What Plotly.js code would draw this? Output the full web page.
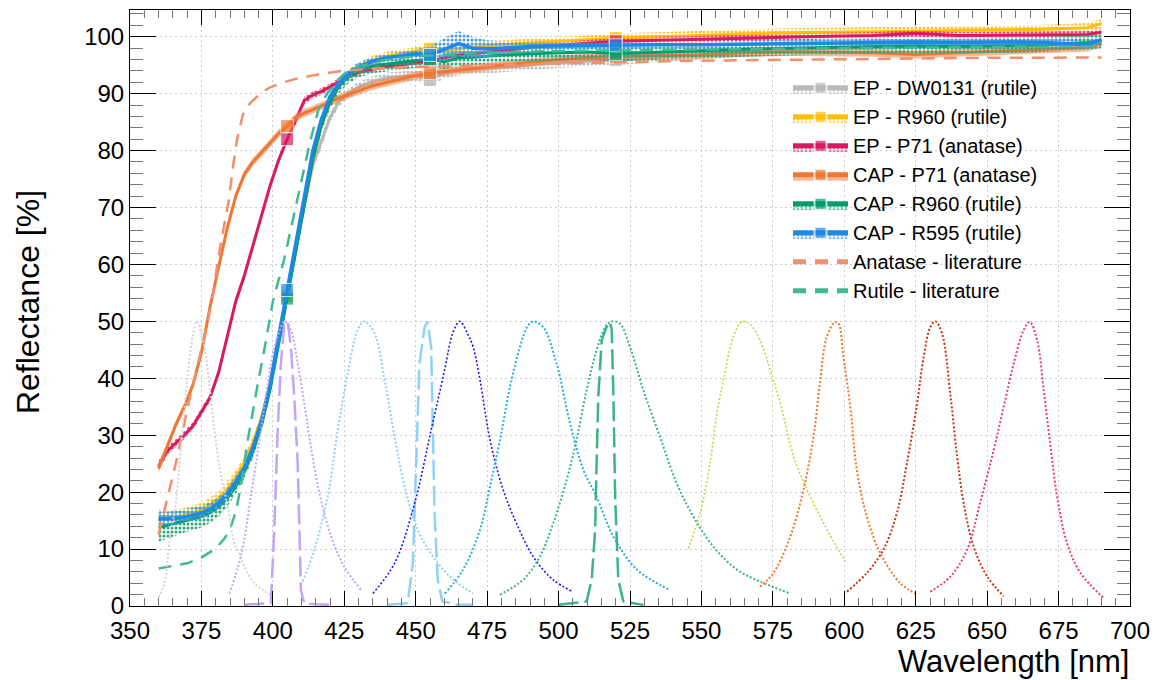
<!DOCTYPE html>
<html><head><meta charset="utf-8">
<script src="https://cdn.plot.ly/plotly-3.0.1.min.js"></script>
<style>html,body{margin:0;padding:0;background:#fff}#chart{width:1154px;height:680px}</style>
</head><body><div id="chart"></div>
<script>
// ---- measured reflectance (common wavelength grid, nm) ----
const wl = [360,363,366,369,372,375,378,381,384,387,390,393,396,399,402,405,408,411,414,417,420,423,426,430,435,440,445,450,455,460,465,470,475,480,490,500,510,520,535,550,565,580,595,610,625,640,655,670,685,690];

const epDW0131 = [15.6,15.5,15.5,15.7,16.0,16.4,17.1,18.2,19.8,21.8,24.3,27.6,32.0,38.3,46.5,54.5,62.5,70.5,77.5,81.5,85.8,88.5,89.9,91.2,92.2,92.8,93.0,93.2,92.4,93.6,94.1,94.3,94.5,94.6,95.0,95.4,95.7,95.9,96.4,96.9,97.4,97.8,98.0,98.2,98.3,98.4,98.5,98.6,98.7,99.0];
const epDW0131Err = [1.5,1.4,1.2,1.0,1.0,1.0,1.0,1.0,1.0,1.0,1.0,1.0,1.0,1.0,1.0,1.0,1.0,1.0,1.0,1.0,0.9,0.9,0.9,0.9,0.9,0.9,0.9,0.9,1.2,0.9,0.9,0.9,0.9,0.9,0.9,0.9,0.9,0.9,0.9,0.9,0.9,0.9,0.9,0.9,0.9,0.9,0.9,0.9,0.9,0.9];

const epR960 = [15.2,15.3,15.6,15.9,16.3,16.9,17.7,18.9,20.5,22.6,25.2,28.6,33.0,39.0,46.5,54.5,62.5,70.5,78.5,84.5,89.0,91.5,93.2,94.7,95.9,96.6,97.0,97.4,97.9,97.6,97.9,98.2,98.4,98.6,98.9,99.1,99.5,99.8,100.0,100.3,100.5,100.7,100.8,101.0,101.0,101.1,101.2,101.3,101.6,102.3];
const epR960Err = [1.3,1.3,1.3,1.3,1.3,1.3,1.3,1.3,1.3,1.3,1.2,1.2,1.0,1.0,1.0,1.0,1.0,1.0,1.0,0.9,0.8,0.8,0.8,0.8,0.8,0.8,0.8,0.8,1.0,1.0,1.0,1.0,0.8,0.8,0.8,0.8,0.8,0.8,0.8,0.8,0.8,0.8,0.8,0.8,0.8,0.8,0.8,0.8,0.8,0.8];

const epP71 = [24.6,27.2,28.6,30.0,31.6,34.0,36.6,41.0,47.5,53.5,58.0,63.2,68.8,73.8,78.3,82.0,85.3,88.8,89.8,90.4,91.2,92.1,92.8,93.7,94.3,94.8,95.1,95.4,95.7,96.3,96.8,97.0,97.3,97.6,98.1,98.5,98.9,99.2,99.4,99.6,99.8,100.0,100.1,100.2,100.6,100.2,100.3,100.3,100.4,100.8];
const epP71Err = [0.9,0.8,0.7,0.7,0.7,0.7,0.7,0.7,0.7,0.7,0.7,0.7,0.7,0.7,0.7,0.7,0.7,0.7,0.6,0.6,0.6,0.6,0.6,0.6,0.6,0.6,0.6,0.6,0.6,0.6,0.6,0.6,0.6,0.6,0.6,0.6,0.6,0.6,0.6,0.6,0.6,0.6,0.6,0.6,0.6,0.6,0.6,0.6,0.6,0.6];

const capP71 = [24.2,28.0,31.8,35.0,38.8,44.5,52.5,59.5,66.3,72.0,75.8,78.0,79.6,81.3,83.0,84.3,85.8,86.6,87.2,87.8,88.5,89.2,89.8,90.5,91.4,92.0,92.6,93.2,93.6,93.9,94.2,94.5,94.8,95.0,95.5,96.0,96.3,96.5,96.7,96.8,97.2,97.3,97.2,97.2,96.9,97.2,97.5,97.7,98.1,98.8];
const capP71Err = [0.8,0.7,0.7,0.7,0.7,0.7,0.7,0.7,0.7,0.7,0.7,0.7,0.7,0.7,0.7,0.7,0.7,0.7,0.7,0.7,0.7,0.7,0.7,0.7,0.7,0.7,0.7,0.7,0.7,0.7,0.7,0.7,0.7,0.7,0.7,0.7,0.7,0.7,0.7,0.7,0.7,0.7,0.7,0.7,0.7,0.7,0.7,0.7,0.7,0.7];

const capR960 = [13.8,14.2,14.6,14.9,15.3,15.7,16.4,17.4,18.9,21.0,23.6,27.1,31.8,38.0,46.0,54.0,62.0,70.5,78.5,84.5,88.5,91.2,92.8,94.2,94.9,95.2,95.5,95.9,96.1,95.6,96.3,96.4,96.6,96.8,97.0,97.2,97.3,97.0,97.3,97.5,97.8,98.0,98.1,98.3,98.4,98.3,98.5,98.6,99.0,99.3];
const capR960Err = [2.5,2.3,2.2,2.0,2.0,1.9,1.8,1.7,1.5,1.3,1.2,1.2,1.2,1.2,1.2,1.2,1.2,1.2,1.2,1.2,1.2,1.2,1.2,1.3,1.3,1.3,1.3,1.3,1.3,1.3,1.3,1.3,1.3,1.3,1.3,1.3,1.3,1.3,1.3,1.3,1.3,1.3,1.3,1.3,1.3,1.3,1.3,1.3,1.3,1.3];

const capR595 = [15.3,15.3,15.4,15.6,15.9,16.3,17.0,18.1,19.7,21.8,24.2,27.8,32.5,38.8,47.3,55.5,63.3,71.5,80.0,85.5,89.5,91.8,93.3,94.7,95.7,96.3,96.6,97.0,96.8,97.8,98.8,98.0,97.9,98.0,98.3,98.4,98.5,98.5,98.6,98.6,98.7,98.8,98.8,99.0,99.1,99.0,99.1,99.0,98.6,99.5];
const capR595Err = [1.2,1.2,1.1,1.0,1.0,1.0,1.0,1.0,1.0,1.0,0.8,0.8,0.8,0.8,0.8,0.8,0.8,0.8,0.8,0.8,0.7,0.7,0.7,0.7,0.7,0.7,0.7,0.8,1.5,2.0,2.2,2.0,1.5,1.2,0.8,0.7,0.6,0.6,0.6,0.6,0.6,0.6,0.6,0.6,0.6,0.6,0.6,0.6,0.6,0.6];

// wavelengths that carry a square marker
const markerWl = [405,455,520];

// ---- literature curves ----
const anaLitX = [360,362,364,366,368,370,372,375,377,379,381,383,384.5,386,387.5,389.5,392,396,399,403,408,415,424,435,450,470,500,550,600,650,690];
const anaLitY = [12.5,16.5,21,25,29.5,34.5,38.8,45,49.5,54.5,61.5,67,71,77,82,86.3,88.3,90.2,91.1,91.9,92.6,93.3,94.0,94.4,94.7,94.9,95.3,95.8,96.1,96.3,96.35];
const rutLitX = [360,365,370,375,380,383,385,387,389,391,393,395,397,400,404,407,410,413,416,419,422,425,430,440,450,475,500,550,600,650,690];
const rutLitY = [6.6,7.0,7.5,8.5,10.1,11.8,13.5,16.5,21.5,28.5,34.5,39.8,45,53.5,61,68,74.5,81.5,87.3,90,92,93.5,94.8,96,96.6,97.2,97.5,97.8,98,98.2,98.3];

// ---- LED / laser emission spectra (scaled to 50) ----
const led373X = [360,362,364,366,368,370,372,373.5,376,378,379.5,381,382,384,386.5,388,390,393,396,399];
const led373Y = [1.5,4,12,18,29,39.5,47.5,50,45.5,38,31,25.5,22.5,18,11,9.5,7,4.3,3,2];
const led405X = [384.8,388.8,392.3,395.8,398.2,400.5,402.5,404,406.3,408.7,411,413.3,416.3,420.4,425,430.9];
const led405Y = [2.2,8.7,19.2,30.9,39.1,45.5,48.5,50,48.5,42.6,35.6,28,19.8,12.2,6.9,2.8];
const laser405X = [390,395,399.3,400.5,401.7,402.8,404,405.2,406.3,407.5,408.7,409.3,409.8,411,415,420.4];
const laser405Y = [0.2,0.3,0.5,13.4,30.9,42.6,49.6,50,45.5,36.8,25,13.4,2.8,0.5,0.3,0.2];
const led432X = [410.4,414.5,419.2,422.7,426.2,429.7,432,435.6,439.1,442.6,446.1,450.7,455,459.6,464.8,470.1];
const led432Y = [4.3,9.9,19.2,30.9,40.8,48.5,50,47.9,39.7,29.7,21,13.4,9.5,6.4,4,2.2];
const laser455X = [440.2,447.2,449,450.1,451.3,453.1,454.2,455.4,456,456.6,457.7,459.3,464.8,470];
const laser455Y = [0.2,0.5,7.5,25,42.6,49,50,45.5,30.9,16.3,4.6,0.8,0.2,0.2];
const led465X = [435,442.6,449.6,455.4,460.1,463,465.4,468,470.1,472.5,476,480.6,485.3,491.1,498.1,505.1];
const led465Y = [2.2,7.5,18,30.9,41.4,48,50,48,45.5,39.7,29.2,20.4,14.5,8.7,4.6,2.5];
const led492X = [460.2,466.6,472.5,476,479.5,483,486.5,489,491.1,494.6,499.3,504,508.7,513.3,519.2,527.4,539];
const led492Y = [2.2,6.4,13.4,21,29.2,38.5,45.5,49,50,49,42.6,32.1,23.9,19.2,12.2,6.4,2.8];
const led519X = [479.5,487.6,493.5,498.1,502.8,506.3,509.8,513.3,516.3,518.6,521.5,525,529.7,535.5,541.4,547.2,554.2,562.4,570.5,581];
const led519Y = [2,4.6,8.7,14.5,22.1,29.2,37.9,44.9,49,50,49.6,45.5,37.9,29.7,21.5,15.7,10.4,6.4,4.3,2.2];
const laser518X = [500,509.8,511.6,512.8,513.3,513.9,515.1,516.8,518,518.6,519.2,519.8,520.9,522.7,529.7];
const laser518Y = [0.2,0.8,4.6,13.4,25,36.8,46.7,49,49.9,48.5,36.8,19.2,4.6,0.8,0.2];
const led565X = [545.4,549.5,553,555.4,557.7,561.2,564.2,567,570.5,574.1,577.6,582.3,587,592.8,600.4];
const led565Y = [10.1,16.3,25,33.8,39.7,47.3,50,49.5,46.7,41.4,35.6,26.2,20.4,14.5,7.8];
const led598X = [570.5,575.2,581.1,585.7,589.2,591.6,593.9,596.8,598,599.7,602.1,604.4,607.9,612.6,619.6,625.5];
const led598Y = [3.4,5.8,12.2,20.4,29.7,39.7,47.3,49.9,49.6,43.8,35,23.9,15.7,9.3,4,2];
const led632X = [600.9,607.9,613.7,618.4,621.9,625.5,627.8,630.1,631.9,634.2,637.2,639.5,641.8,645.3,650,655.8];
const led632Y = [2.5,5.8,9.9,16.3,25,35.6,43.8,49,50,47.9,36.8,26.2,18,10.4,5.2,1.7];
const led664X = [630.1,637.2,643,647.5,652.3,655.8,659.3,662.8,664.9,667.5,669.8,672.2,674.5,678,682.7,690.8];
const led664Y = [2.5,5.2,9.9,18,27.4,35,42.6,48.5,49.9,46.7,37.9,28,19.2,11,5.8,1.4];

// ---- build traces ----
const traces = [];
function series(name, y, err, color, fill, lw) {
  const lo = y.map((v, i) => v - err[i]);
  const hi = y.map((v, i) => v + err[i]);
  const msize = wl.map(w => markerWl.indexOf(w) >= 0 ? 13 : 0);
  const fillProps = fill.pattern
    ? {fillcolor: 'rgba(0,0,0,0)', fillpattern: {shape: '.', fgcolor: fill.color, bgcolor: 'rgba(255,255,255,0)', size: 4, solidity: 0.45}}
    : {fillcolor: fill.color};
  traces.push({x: wl, y: lo, mode: 'lines', line: {width: 0, color: color}, showlegend: false, hoverinfo: 'skip'});
  traces.push(Object.assign({x: wl, y: y, name: name, mode: 'lines+markers', fill: 'tonexty',
    line: {color: color, width: lw}, marker: {symbol: 'square', size: msize, color: color}}, fillProps));
  traces.push(Object.assign({x: wl, y: hi, mode: 'lines', fill: 'tonexty', line: {width: 0, color: color},
    showlegend: false, hoverinfo: 'skip'}, fillProps));
}
series('EP - DW0131 (rutile)', epDW0131, epDW0131Err, '#b9b9b9', {pattern: true, color: '#bdbdbd'}, 3);
series('EP - R960 (rutile)', epR960, epR960Err, '#fcbf0a', {pattern: true, color: '#fcc52a'}, 3);
series('EP - P71 (anatase)', epP71, epP71Err, '#d81b60', {pattern: true, color: '#e0457f'}, 3);
series('CAP - P71 (anatase)', capP71, capP71Err, '#ee7733', {pattern: false, color: 'rgba(240,130,70,0.55)'}, 3);
series('CAP - R960 (rutile)', capR960, capR960Err, '#009e6e', {pattern: true, color: '#2aa77c'}, 3);
series('CAP - R595 (rutile)', capR595, capR595Err, '#1e88e5', {pattern: true, color: '#4a9be6'}, 3.5);

traces.push({x: anaLitX, y: anaLitY, name: 'Anatase - literature', mode: 'lines',
  line: {color: '#f0906c', width: 2.5, dash: '13px,9px'}});
traces.push({x: rutLitX, y: rutLitY, name: 'Rutile - literature', mode: 'lines',
  line: {color: '#3fba93', width: 2.5, dash: '13px,9px'}});

function spec(x, y, color, dash, width, shape) {
  traces.push({x: x, y: y, mode: 'lines', showlegend: false, hoverinfo: 'skip',
    line: {color: color, width: width, dash: dash, shape: shape}});
}
const dot = '2px,2px';
spec(led373X, led373Y, '#d4d4d4', dot, 2, 'spline');
spec(led405X, led405Y, '#c2a4f8', dot, 2, 'spline');
spec(laser405X, laser405Y, '#c2a4f8', '20px,6px', 2.5, 'linear');
spec(led432X, led432Y, '#8fd2f8', dot, 2, 'spline');
spec(laser455X, laser455Y, '#8fd2f8', '20px,6px', 2.5, 'linear');
spec(led465X, led465Y, '#1a1aee', dot, 1.6, 'spline');
spec(led492X, led492Y, '#22aee6', dot, 2, 'spline');
spec(led519X, led519Y, '#3cb38a', dot, 2, 'spline');
spec(laser518X, laser518Y, '#3cb38a', '20px,6px', 2.5, 'linear');
spec(led565X, led565Y, '#c6d442', dot, 1.6, 'spline');
spec(led598X, led598Y, '#f0782e', dot, 2, 'spline');
spec(led632X, led632Y, '#cc3310', dot, 2, 'spline');
spec(led664X, led664Y, '#f2387e', dot, 2, 'spline');

const axisCommon = {
  ticks: 'inside', tickwidth: 1, tickcolor: '#000', mirror: 'allticks', showline: true,
  linecolor: '#000', linewidth: 1, showgrid: true, gridcolor: '#cccccc', griddash: '2px,3px', gridwidth: 1,
  zeroline: false, automargin: false, tickfont: {size: 24, color: '#000'}
};
const layout = {
  width: 1154, height: 680,
  margin: {l: 130, r: 24, t: 10, b: 74},
  paper_bgcolor: '#fff', plot_bgcolor: '#fff',
  font: {family: 'Liberation Sans, Arial, Helvetica, sans-serif', color: '#000'},
  showlegend: true,
  legend: {x: 0.658, y: 0.9024, xanchor: 'left', yanchor: 'top', bgcolor: 'rgba(255,255,255,0)',
    borderwidth: 0, font: {size: 20, color: '#000'}, itemsizing: 'constant', itemwidth: 55, traceorder: 'normal'},
  xaxis: Object.assign({}, axisCommon, {range: [350, 700], tick0: 350, dtick: 25, ticklen: 15, ticklabelstandoff: 3,
    minor: {dtick: 5, ticks: 'inside', ticklen: 8, tickcolor: '#777', tickwidth: 1, showgrid: false}}),
  yaxis: Object.assign({}, axisCommon, {range: [0, 104.7], tick0: 0, dtick: 10, ticklen: 26,
    minor: {dtick: 2, ticks: 'inside', ticklen: 13, tickcolor: '#777', tickwidth: 1, showgrid: false}}),
  annotations: [
    {text: 'Wavelength [nm]', xref: 'paper', yref: 'paper', x: 1, y: -0.1235, xanchor: 'right', yanchor: 'bottom',
      borderpad: 0, showarrow: false, font: {size: 31, color: '#000'}},
    {text: 'Reflectance [%]', xref: 'paper', yref: 'paper', x: -0.102, y: 0.51, xanchor: 'center', yanchor: 'middle',
      textangle: -90, showarrow: false, font: {size: 32, color: '#000'}}
  ]
};
Plotly.newPlot('chart', traces, layout, {displayModeBar: false, staticPlot: true});
</script>
</body></html>
